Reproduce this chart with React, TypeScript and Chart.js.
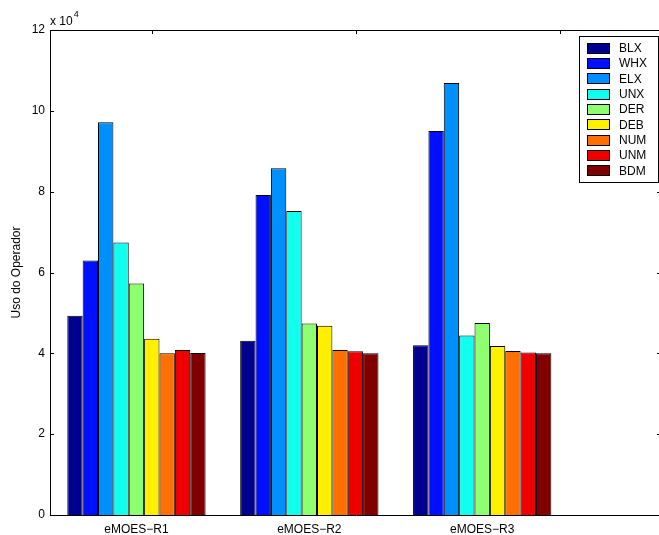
import React, { useEffect, useRef } from 'react';
import { Chart, registerables } from 'chart.js';

Chart.register(...registerables);

// ---- data (values in raw units, axis shows ×10^4) ----
const categories = ['eMOES−R1', 'eMOES−R2', 'eMOES−R3'];
const operators = ['BLX', 'WHX', 'ELX', 'UNX', 'DER', 'DEB', 'NUM', 'UNM', 'BDM'];
const colors = ['#00008F', '#0010FF', '#008FFF', '#10FFEF', '#8FFF70', '#FFEF00', '#FF7000', '#EF0000', '#800000'];

const blx = [49300, 43100, 42000];
const whx = [63000, 79200, 95000];
const elx = [97200, 85800, 106900];
const unx = [67400, 75200, 44400];
const der = [57300, 47400, 47500];
const deb = [43600, 46800, 41800];
const num = [40000, 40800, 40600];
const unm = [40800, 40500, 40200];
const bdm = [40100, 40000, 40000];
const series = [blx, whx, elx, unx, der, deb, num, unm, bdm];

const yTicks = [0, 20000, 40000, 60000, 80000, 100000, 120000];
const topTicks = [1, 2, 3];

const FONT = '"Liberation Sans", Arial, Helvetica, sans-serif';

const decorPlugin = {
  id: 'decor',
  afterDraw(chart: any) {
    const { ctx, chartArea } = chart;
    const { left, right, top, bottom } = chartArea;
    const y = chart.scales.y;
    const x2 = chart.scales.x2;
    ctx.save();
    ctx.strokeStyle = '#000';
    ctx.lineWidth = 1;
    // top + right border
    ctx.beginPath();
    ctx.moveTo(left, Math.round(top) + 0.5);
    ctx.lineTo(right, Math.round(top) + 0.5);
    ctx.moveTo(Math.round(right) - 0.5, top);
    ctx.lineTo(Math.round(right) - 0.5, bottom);
    ctx.stroke();
    // inward ticks on y (left & right)
    ctx.beginPath();
    yTicks.forEach((v) => {
      const py = Math.round(y.getPixelForValue(v)) + 0.5;
      ctx.moveTo(left, py);
      ctx.lineTo(left + 4, py);
      ctx.moveTo(right, py);
      ctx.lineTo(right - 5, py);
    });
    // inward ticks on top
    topTicks.forEach((v) => {
      const px = Math.round(x2.getPixelForValue(v)) + 0.5;
      ctx.moveTo(px, top);
      ctx.lineTo(px, top + 4);
    });
    ctx.stroke();

    // exponent label
    ctx.fillStyle = '#000';
    ctx.textBaseline = 'alphabetic';
    ctx.textAlign = 'left';
    ctx.font = `12px ${FONT}`;
    ctx.fillText('x 10', left, top - 5);
    const w = ctx.measureText('x 10').width;
    ctx.font = `9px ${FONT}`;
    ctx.fillText('4', left + w + 1, top - 13);

    // legend
    const lx = 579.5, ly = 36.5, lw = 79, lh = 146;
    ctx.fillStyle = '#fff';
    ctx.fillRect(lx, ly, lw, lh);
    ctx.strokeStyle = '#000';
    ctx.strokeRect(lx, ly, lw, lh);
    ctx.font = `12px ${FONT}`;
    ctx.textBaseline = 'middle';
    chart.data.datasets.forEach((ds: any, i: number) => {
      const cy = 48 + i * 15.35;
      ctx.fillStyle = ds.backgroundColor;
      ctx.fillRect(587, Math.round(cy - 5.5), 23, 11);
      ctx.strokeStyle = '#000';
      ctx.strokeRect(587.5, Math.round(cy - 5.5) + 0.5, 22, 10);
      ctx.fillStyle = '#000';
      ctx.fillText(ds.label, 619, cy + 0.5);
    });
    ctx.restore();
  },
};

export default function App() {
  const ref = useRef<HTMLCanvasElement | null>(null);
  useEffect(() => {
    document.body.style.margin = '0';
    document.body.style.background = '#fff';
    const canvas = ref.current!;
    const chart = new Chart(canvas, {
      type: 'bar',
      data: {
        datasets: operators.map((op, k) => ({
          label: op,
          data: series[k].map((v, i) => ({ x: i + 1, y: v })),
          backgroundColor: colors[k],
          borderColor: '#000',
          borderWidth: 1,
          barPercentage: 1,
          categoryPercentage: 0.8,
          xAxisID: 'x',
        })),
      },
      options: {
        responsive: false,
        animation: false,
        devicePixelRatio: 1,
        layout: { padding: { top: 30, right: 1, left: 0, bottom: 0 } },
        plugins: {
          legend: { display: false },
          tooltip: { enabled: false },
        },
        scales: {
          x: {
            type: 'linear',
            position: 'bottom',
            offset: false,
            min: 0.5,
            max: 4.04,
            afterBuildTicks: (s: any) => {
              s.ticks = [1, 2, 3].map((v) => ({ value: v }));
            },
            afterFit: (s: any) => {
              s.height = 20;
            },
            grid: { display: false, drawTicks: false, tickLength: 0, offset: false },
            border: { display: true, color: '#000', width: 1 },
            ticks: {
              autoSkip: false,
              maxRotation: 0,
              padding: 7,
              color: '#000',
              font: { family: FONT, size: 12 },
              callback: (v: any) => categories[Number(v) - 1] ?? '',
            },
          },
          x2: {
            type: 'linear',
            position: 'top',
            display: false,
            offset: false,
            min: 0.5,
            max: 3.5,
          },
          y: {
            type: 'linear',
            min: 0,
            max: 120000,
            afterBuildTicks: (s: any) => {
              s.ticks = yTicks.map((v) => ({ value: v }));
            },
            afterFit: (s: any) => {
              s.width = 50;
            },
            grid: { display: false, drawTicks: false, tickLength: 0 },
            border: { display: true, color: '#000', width: 1 },
            ticks: {
              padding: 5,
              color: '#000',
              font: { family: FONT, size: 12 },
              callback: (v: any) => String(Number(v) / 10000),
            },
            title: {
              display: true,
              text: 'Uso do Operador',
              color: '#000',
              font: { family: FONT, size: 12 },
              padding: { top: 9, bottom: 0 },
            },
          },
        },
      } as any,
      plugins: [decorPlugin],
    });
    return () => chart.destroy();
  }, []);
  return (
    <div style={{ width: 659, height: 535, overflow: 'hidden', background: '#fff' }}>
      <canvas ref={ref} width={663} height={535} style={{ display: 'block' }} />
    </div>
  );
}
